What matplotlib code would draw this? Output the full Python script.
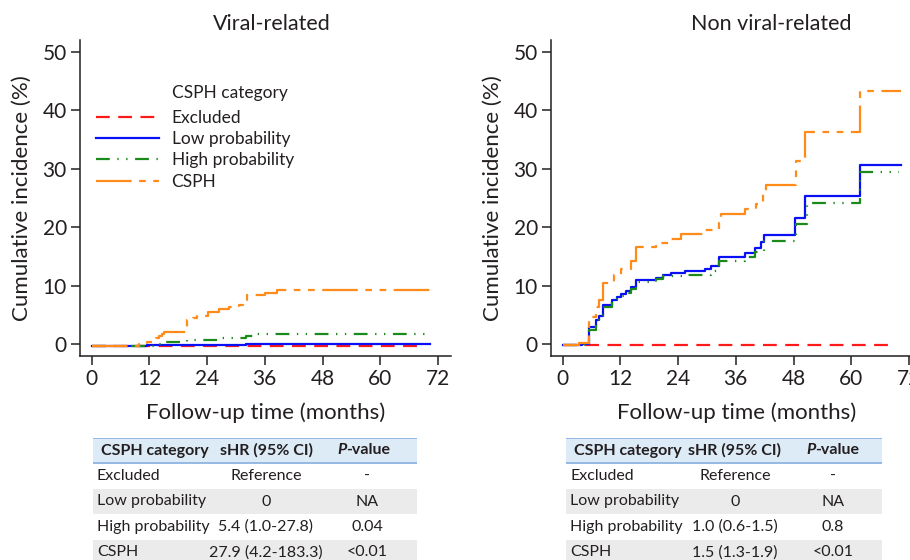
"""
Cumulative incidence by CSPH category, viral vs non viral-related,
with sHR tables underneath.
"""
import numpy as np
import matplotlib.pyplot as plt
from matplotlib.lines import Line2D
from matplotlib.patches import Rectangle

plt.rcParams['font.family'] = ['Lato', 'DejaVu Sans']

# Canvas in pixels (dpi 100)
W, H = 910, 560
TEXT = '#231f20'

GROUPS = ['Excluded', 'Low probability', 'High probability', 'CSPH']
COLORS = ['#ff1a1a', '#0a10f5', '#1a8a1a', '#ff8c1a']
DASHES = [(6.2, 3.8), None, (6.2, 3.4, 0.6, 3.4, 0.6, 3.4), (16, 3.4, 3, 3.4, 3, 3.4)]

# Viral-related, step curves (months, %)
viral_excl_t = [0, 69.3]
viral_excl_v = [-0.3, -0.3]
viral_low_t = [0, 11.5, 32.1, 70.3]
viral_low_v = [-0.3, -0.1, 0.1, 0.1]
viral_high_t = [0, 13.9, 15.4, 19.9, 26.4, 32.1, 33.5, 70.3]
viral_high_v = [-0.3, 0.1, 0.4, 0.7, 1.0, 1.4, 1.7, 1.7]
viral_csph_t = [0, 9.8, 11.5, 13.4, 14.0, 14.6, 15.1, 19.9, 21.0, 22.0, 24.2,
                26.4, 28.5, 30.6, 31.5, 32.4, 36.0, 38.5, 70.3]
viral_csph_v = [-0.3, 0.1, 0.4, 1.0, 1.4, 1.8, 2.1, 4.1, 4.5, 4.9, 5.5,
                6.1, 6.4, 6.7, 7.5, 8.4, 8.8, 9.2, 9.2]

# Non viral-related
nonviral_excl_t = [0, 69.3]
nonviral_excl_v = [-0.2, -0.2]
nonviral_low_t = [0, 4.0, 5.5, 6.85, 7.5, 8.5, 10.2, 11.3, 12.1, 13.1, 14.2, 15.2,
                  19.4, 20.8, 22.6, 25.4, 29.7, 30.8, 32.6, 37.9, 39.9, 41.3,
                  41.9, 48.4, 50.3, 61.9, 70.3]
nonviral_low_v = [-0.2, 0.0, 3.0, 4.1, 4.9, 6.7, 7.5, 8.1, 8.6, 9.1, 9.8, 11.0,
                  11.4, 11.8, 12.2, 12.5, 12.9, 13.3, 14.9, 15.6, 16.4, 17.4,
                  18.6, 21.6, 25.3, 30.7, 30.7]
nonviral_high_t = [0, 5.5, 6.85, 7.5, 8.5, 10.2, 11.3, 12.1, 13.1, 14.2, 15.2,
                   19.4, 20.8, 25.4, 30.8, 32.6, 37.9, 39.9, 41.9, 48.5, 50.7,
                   61.9, 69.9]
nonviral_high_v = [-0.2, 2.5, 3.8, 4.6, 6.3, 7.2, 7.8, 8.3, 8.8, 9.4, 10.6,
                   11.1, 11.7, 11.9, 12.6, 14.3, 14.9, 15.8, 17.7, 20.6, 24.2,
                   29.5, 29.5]
nonviral_csph_t = [0, 3.5, 5.5, 6.85, 7.5, 8.5, 10.6, 12.1, 14.2, 15.2, 19.4,
                   22.6, 24.7, 29.7, 32.6, 32.9, 37.9, 40.1, 41.6, 42.2, 48.5,
                   50.3, 61.9, 70.3]
nonviral_csph_v = [-0.2, 0.2, 4.7, 6.4, 7.5, 10.4, 11.8, 12.9, 14.3, 16.7, 17.3,
                   18.0, 18.9, 19.5, 20.7, 22.2, 23.2, 24.0, 26.0, 27.3, 31.4,
                   36.2, 43.3, 43.3]

# sHR tables
TABLE_HEADER = ['CSPH category', 'sHR (95% CI)', 'P-value']
viral_shr = ['Reference', '0', '5.4 (1.0-27.8)', '27.9 (4.2-183.3)']
viral_p = ['-', 'NA', '0.04', '<0.01']
nonviral_shr = ['Reference', '0', '1.0 (0.6-1.5)', '1.5 (1.3-1.9)']
nonviral_p = ['-', 'NA', '0.8', '<0.01']


def fx(x):
    return x / W


def fy(y):
    return 1 - y / H


def draw_panel(fig, left, curves, title, title_x):
    ax = fig.add_axes([fx(left), fy(356), 371 / W, 316 / H])
    for (t, v), color, dashes in zip(curves, COLORS, DASHES):
        kw = dict(dashes=dashes) if dashes else {}
        ax.step(t, v, where='post', color=color, linewidth=1.6, **kw)

    ax.set_xlim(-2.4, 74.7)
    ax.set_ylim(-2.0, 52.0)
    ax.set_xticks(range(0, 73, 12))
    ax.set_yticks(range(0, 51, 10))
    ax.tick_params(length=6.5, width=1.1, labelsize=15, colors=TEXT, pad=3)
    for side in ['top', 'right']:
        ax.spines[side].set_visible(False)
    for side in ['left', 'bottom']:
        ax.spines[side].set_color(TEXT)
        ax.spines[side].set_linewidth(1.1)

    fig.text(fx(title_x), fy(24), title, ha='center', va='center',
             fontsize=15.5, color=TEXT)
    fig.text(fx(left + 185.5), fy(413), 'Follow-up time (months)',
             ha='center', va='center', fontsize=16, color=TEXT)
    fig.text(fx(left - 58), fy(198), 'Cumulative incidence (%)', rotation=90,
             ha='center', va='center', fontsize=16, color=TEXT)
    return ax


def draw_table(fig, x0, x1, shr, pvals, cols, p_left):
    top, bottom = 438, 565
    ax = fig.add_axes([fx(x0), fy(bottom), (x1 - x0) / W, (bottom - top) / H])
    ax.set_xlim(0, x1 - x0)
    ax.set_ylim(bottom - top, 0)
    ax.axis('off')

    edges = [0, 25, 51, 76, 102, 127]
    width = x1 - x0
    ax.add_patch(Rectangle((0, 0), width, 25, facecolor='#ddebf7', edgecolor='none'))
    for i in [2, 4]:
        ax.add_patch(Rectangle((0, edges[i]), width, edges[i + 1] - edges[i],
                               facecolor='#ebebeb', edgecolor='none'))
    ax.plot([0, width], [0, 0], color='#8db4e2', linewidth=1.3)
    ax.plot([0, width], [25, 25], color='#8db4e2', linewidth=1.3)

    hdr = dict(fontsize=11.5, fontweight='bold', color=TEXT, va='center')
    ax.text(cols[0] + 4, 12.5, TABLE_HEADER[0], ha='left', **hdr)
    ax.text(cols[1], 12.5, TABLE_HEADER[1], ha='center', **hdr)
    p = ax.text(p_left, 12.5, 'P', ha='left', style='italic', **hdr)
    ax.annotate('-value', xy=(1, 0), xycoords=p, ha='left', va='bottom',
                fontsize=11.5, fontweight='bold', color=TEXT)

    body = dict(fontsize=11.5, color=TEXT, va='center')
    for i, (g, s, pv) in enumerate(zip(GROUPS, shr, pvals)):
        yc = (edges[i + 1] + edges[i + 2]) / 2
        ax.text(cols[0], yc, g, ha='left', **body)
        ax.text(cols[1], yc, s, ha='center', **body)
        ax.text(cols[2], yc, pv, ha='center', **body)


def main():
    fig = plt.figure(figsize=(W / 100, H / 100), dpi=100)

    viral = [(viral_excl_t, viral_excl_v), (viral_low_t, viral_low_v),
             (viral_high_t, viral_high_v), (viral_csph_t, viral_csph_v)]
    nonviral = [(nonviral_excl_t, nonviral_excl_v), (nonviral_low_t, nonviral_low_v),
                (nonviral_high_t, nonviral_high_v), (nonviral_csph_t, nonviral_csph_v)]

    ax1 = draw_panel(fig, 80, viral, 'Viral-related', 271.5)
    draw_panel(fig, 551, nonviral, 'Non viral-related', 771)

    # Legend (left panel only)
    handles = []
    for color, dashes in zip(COLORS, DASHES):
        kw = dict(dashes=dashes) if dashes else {}
        handles.append(Line2D([], [], color=color, linewidth=1.6, **kw))
    ax1.legend(handles, GROUPS, loc='upper left', bbox_to_anchor=(fx(96), fy(110)),
               bbox_transform=fig.transFigure, frameon=False, fontsize=12.5,
               handlelength=3.6, handletextpad=0.75, labelspacing=0.3,
               borderpad=0, borderaxespad=0, labelcolor=TEXT)
    fig.text(fx(172), fy(93), 'CSPH category', ha='left', va='center',
             fontsize=12.5, color=TEXT)

    draw_table(fig, 93, 417, viral_shr, viral_p, [4, 173, 274], 244)
    draw_table(fig, 566, 882, nonviral_shr, nonviral_p, [4, 169, 267], 240)

    fig.savefig('out.png', dpi=100)


if __name__ == '__main__':
    main()
